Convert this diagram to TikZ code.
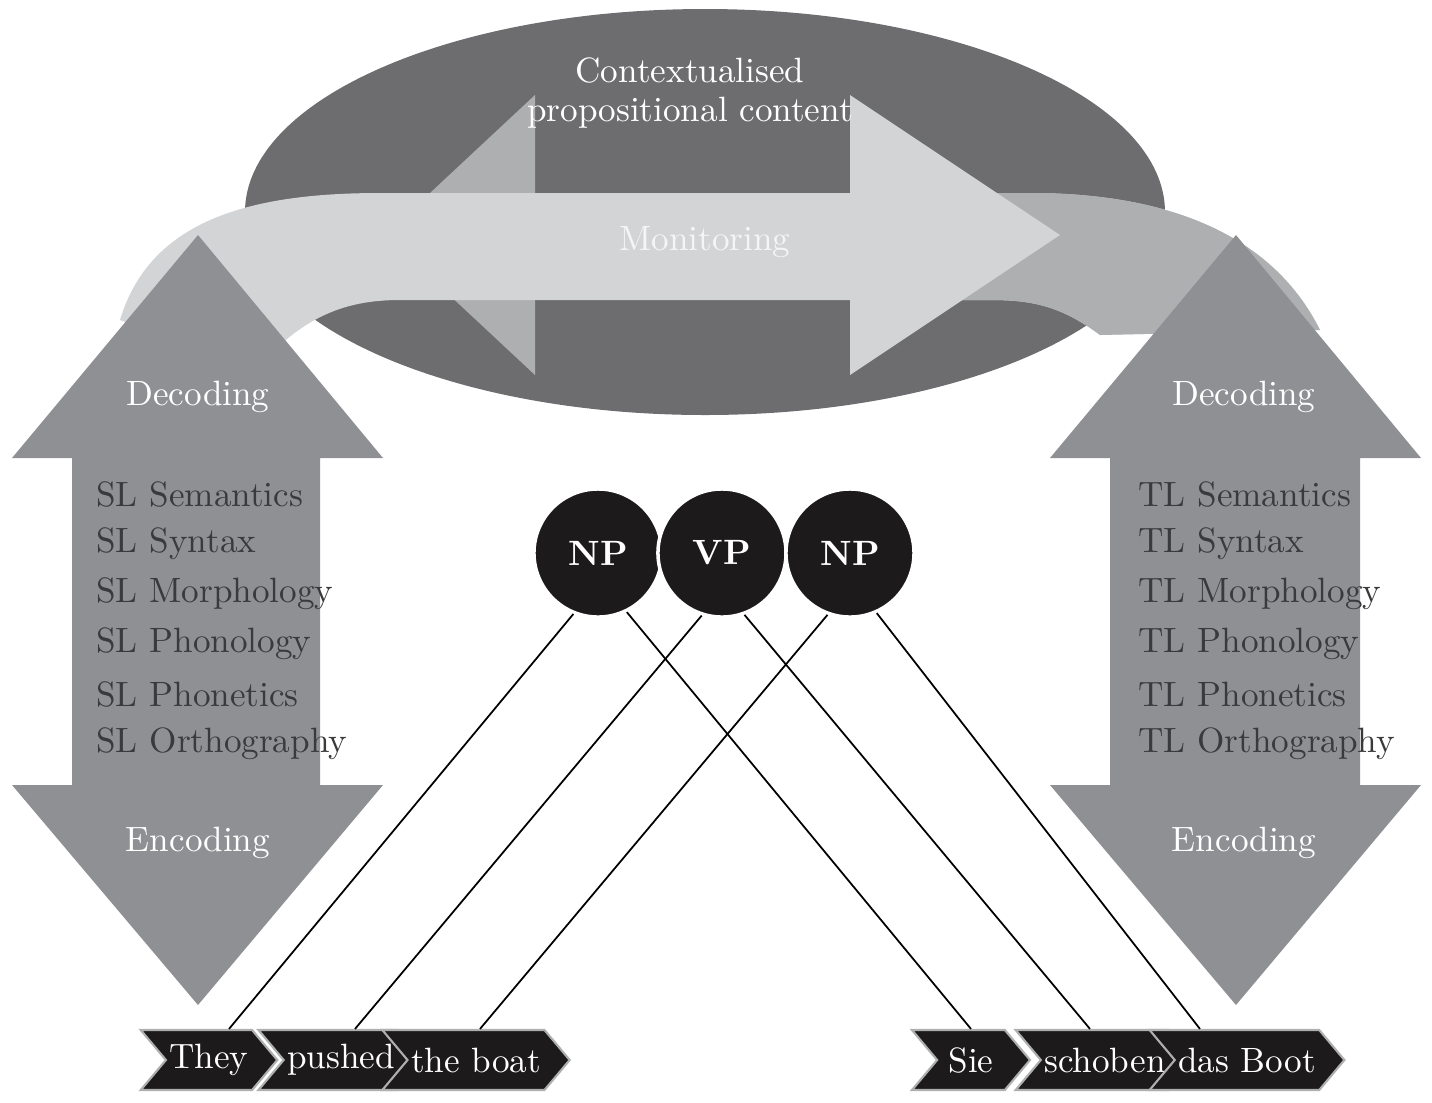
\documentclass[tikz,border=0pt]{standalone}
\usetikzlibrary{shapes.symbols,calc}
\definecolor{dark}{HTML}{6D6D70}
\definecolor{mid}{HTML}{AEAFB1}
\definecolor{light}{HTML}{D3D4D6}
\definecolor{arr}{HTML}{8F9093}
\definecolor{txt}{HTML}{3A3A3C}
\definecolor{blk}{HTML}{1C1A1A}
\begin{document}
\begin{tikzpicture}[x=0.01cm,y=-0.01cm,
  lbl/.style={text=white,font=\fontsize{10}{12}\selectfont},
  lst/.style={text=txt,anchor=west,font=\fontsize{10}{12}\selectfont},
  circ/.style={circle,fill=blk,draw=white,line width=1pt,minimum size=1.28cm,text=white,font=\bfseries\fontsize{10}{12}\selectfont},
  word/.style={signal,signal to=east,signal from=west,signal pointer angle=100,fill=blk,draw=mid,line width=0.6pt,text=white,minimum height=0.6cm,inner xsep=1pt,font=\fontsize{10}{12}\selectfont},
  conn/.style={black,line width=0.5pt}]
\useasboundingbox (0,0) rectangle (1432,1102);
% ellipse and inner arrow heads
\fill[dark] (705,212) ellipse [x radius=460,y radius=203];
\fill[mid] (535,95) -- (385,235) -- (535,375) -- cycle;
% monitoring band
\def\band{(120,320) .. controls (150,220) and (250,193) .. (380,193) -- (1030,193) .. controls (1160,193) and (1270,230) .. (1320,330) -- (1100,335) .. controls (1060,305) and (1030,300) .. (990,300) -- (400,300) .. controls (340,300) and (300,320) .. (255,370) -- cycle}
\fill[light] \band;
\begin{scope}
\clip (850,0) rectangle (1432,500);
\fill[mid] \band;
\end{scope}
\fill[light] (850,95) -- (1060,235) -- (850,375) -- cycle;
% vertical double arrows
\fill[arr] (198,235) -- (383,458) -- (320,458) -- (320,785) -- (383,785) -- (198,1005) -- (12,785) -- (72,785) -- (72,458) -- (12,458) -- cycle;
\fill[arr] (1236,235) -- (1421,458) -- (1360,458) -- (1360,785) -- (1421,785) -- (1236,1005) -- (1050,785) -- (1110,785) -- (1110,458) -- (1050,458) -- cycle;
% texts
\node[lbl,align=center] (ctx) at (690,93) {Contextualised\\[-1pt]propositional content};
\node[lbl,text=white!92!gray] (mon) at (705,242) {Monitoring};
\node[lbl] (dl) at (198,397) {Decoding};
\node[lbl] (dr) at (1244,397) {Decoding};
\node[lbl] (el) at (198,843) {Encoding};
\node[lbl] (er) at (1244,843) {Encoding};
\foreach \t [count=\i] in {Semantics,Syntax,Morphology,Phonology,Phonetics,Orthography}{
  \node[lst] (sl\i) at (84,{444+50*\i}) {SL \t};
  \node[lst] (tl\i) at (1126,{444+50*\i}) {TL \t};
}
% phrase circles
\node[circ] (np1) at (598,553) {NP};
\node[circ] (vp) at (722,553) {VP};
\node[circ] (np2) at (850,553) {NP};
% words
\node[word,minimum width=1.22cm] (w1) at (209,1060) {They};
\node[word,minimum width=1.27cm] (w2) at (341,1060) {pushed};
\node[word,minimum width=1.43cm] (w3) at (476,1060) {the boat};
\node[word,minimum width=1.18cm] (w4) at (971,1060) {Sie};
\node[word,minimum width=1.40cm] (w5) at (1105,1060) {schoben};
\node[word,minimum width=1.35cm] (w6) at (1247,1060) {das Boot};
% connectors
\draw[conn] (np1.248) -- ([xshift=0.2cm]w1.north);
\draw[conn] (np1.296) -- ([xshift=0cm]w4.north);
\draw[conn] (vp.252) -- ([xshift=0.14cm]w2.north);
\draw[conn] (vp.290) -- ([xshift=-0.15cm]w5.north);
\draw[conn] (np2.250) -- ([xshift=0.04cm]w3.north);
\draw[conn] (np2.294) -- ([xshift=-0.47cm]w6.north);
\end{tikzpicture}
\end{document}
